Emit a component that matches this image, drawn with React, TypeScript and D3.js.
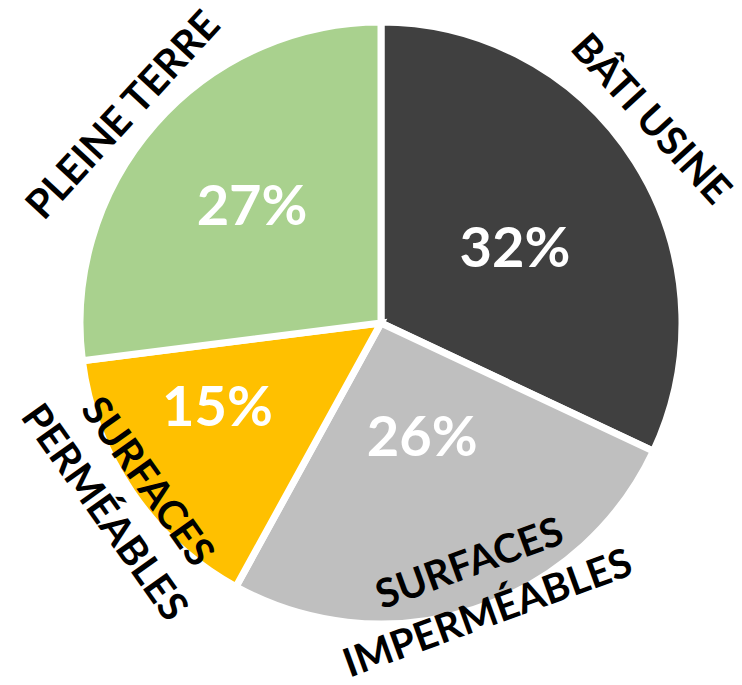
import React from "react";
import * as d3 from "d3";

const categories = ["BÂTI USINE", "SURFACES IMPERMÉABLES", "SURFACES PERMÉABLES", "PLEINE TERRE"];
const values = [32, 26, 15, 27];
const colors = ["#404040", "#BFBFBF", "#FFC000", "#A9D18E"];
const labelLines = [["BÂTI USINE"], ["SURFACES", "IMPERMÉABLES"], ["SURFACES", "PERMÉABLES"], ["PLEINE TERRE"]];

// layout: label placement (polar offsets relative to slice mid-angle)
const pctRadius = [155, 119, 183, 176];
const pctAngleOffset = [2.2, -2.3, 7.6, 1.5];
const catRadius = [340, 281, 307, 333];
const catAngleOffset = [-4.7, -2.2, -0.1, -2.5];
const catRotation = [47.5, -20, 54.5, -47.5];

const W = 742;
const H = 685;
const cx = 381;
const cy = 323;
const R = 301;

export default function App() {
  const pie = d3.pie<number>().sort(null).value((d) => d);
  const arcs = pie(values);
  const arc = d3.arc<d3.PieArcDatum<number>>().innerRadius(0).outerRadius(R);
  const polar = (angDeg: number, r: number) => {
    const a = (angDeg * Math.PI) / 180;
    return [Math.sin(a) * r, -Math.cos(a) * r];
  };
  const font = "Lato, 'Open Sans', sans-serif";
  return (
    <svg width={W} height={H} style={{ position: "absolute", left: 0, top: 0, background: "#fff" }}>
      <g transform={`translate(${cx},${cy})`}>
        {arcs.map((a, i) => (
          <path key={i} d={arc(a) || ""} fill={colors[i]} stroke="#fff" strokeWidth={7} strokeLinejoin="miter" />
        ))}
        {arcs.map((a, i) => {
          const mid = (((a.startAngle + a.endAngle) / 2) * 180) / Math.PI;
          const [x, y] = polar(mid + pctAngleOffset[i], pctRadius[i]);
          return (
            <text key={"p" + i} x={x} y={y} textAnchor="middle" dominantBaseline="central" fill="#fff"
              fontFamily={font} fontWeight={700} fontSize={56}>
              {values[i]}%
            </text>
          );
        })}
        {arcs.map((a, i) => {
          const mid = (((a.startAngle + a.endAngle) / 2) * 180) / Math.PI;
          const [x, y] = polar(mid + catAngleOffset[i], catRadius[i]);
          const lines = labelLines[i];
          const lh = 53;
          return (
            <text key={"c" + i} transform={`translate(${x},${y}) rotate(${catRotation[i]})`} textAnchor="middle"
              dominantBaseline="central" fill="#000" fontFamily={font} fontWeight={700} fontSize={40}>
              {lines.map((l, j) => (
                <tspan key={j} x={0} y={(j - (lines.length - 1) / 2) * lh}>{l}</tspan>
              ))}
            </text>
          );
        })}
      </g>
    </svg>
  );
}
